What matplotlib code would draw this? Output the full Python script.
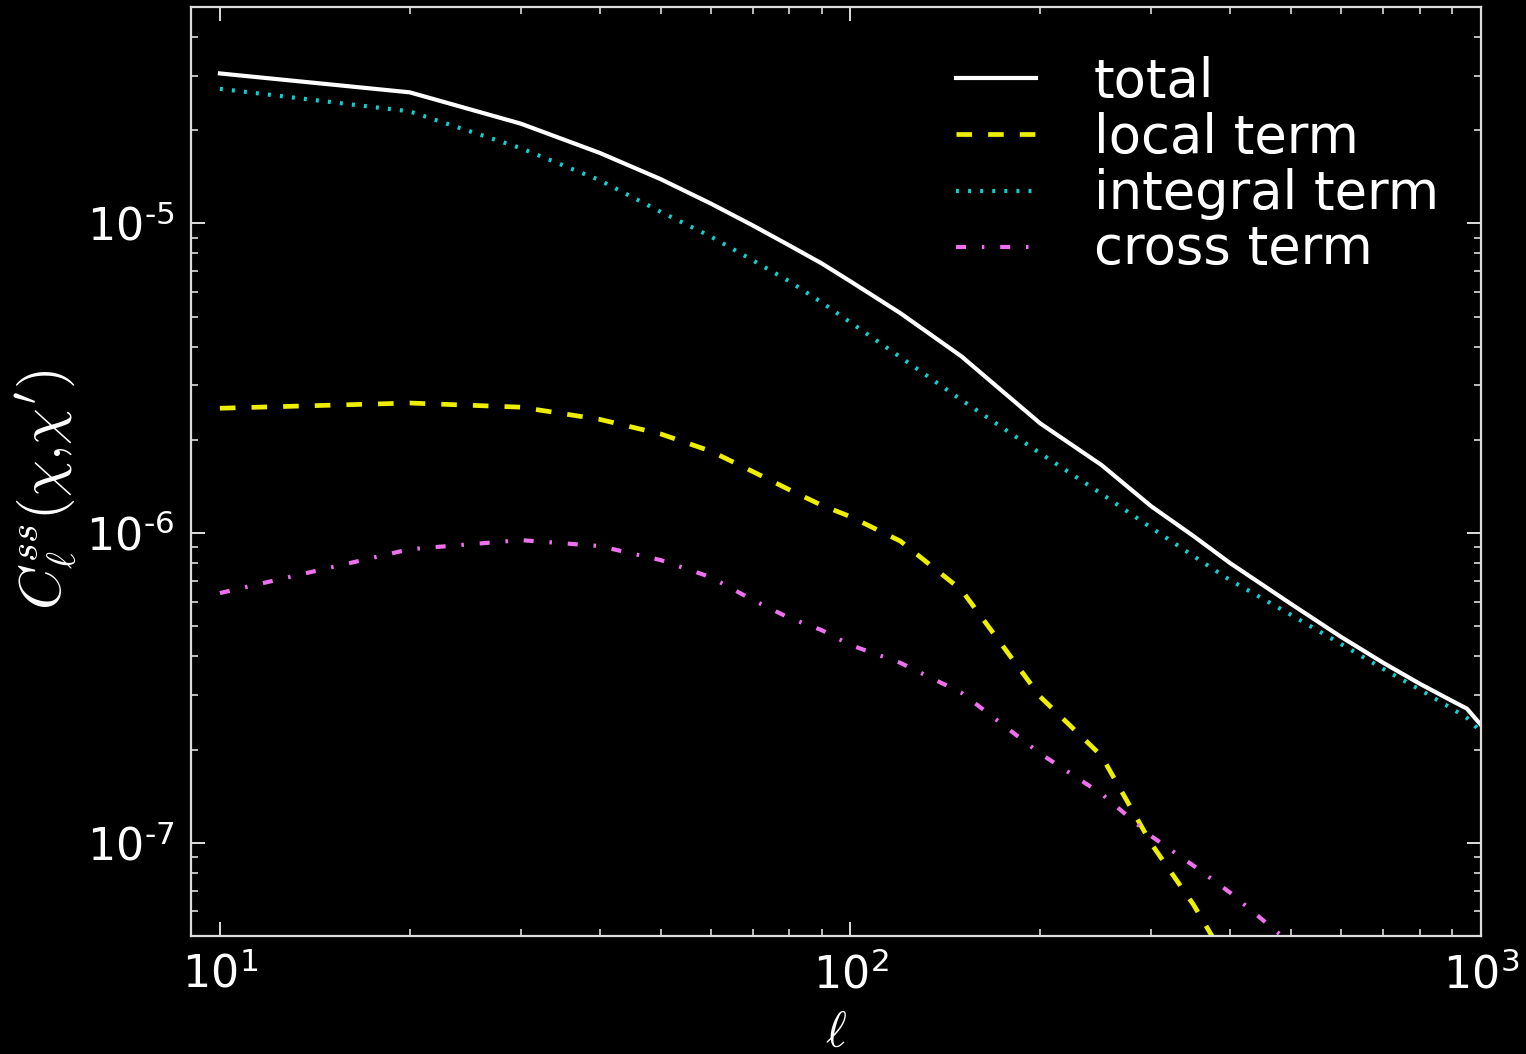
import numpy as np
import matplotlib
matplotlib.use("Agg")
import matplotlib.pyplot as plt
from matplotlib.ticker import FuncFormatter

# multipoles and the four contributions to C_ell^ss(chi, chi')
ell = [10, 20, 30, 40, 50, 60, 70, 80, 90, 100, 120, 150, 200, 250, 300,
       350, 400, 500, 600, 700, 800, 900, 950, 1000]

total = [3.05e-5, 2.65e-5, 2.10e-5, 1.69e-5, 1.39e-5, 1.16e-5, 9.85e-6,
         8.49e-6, 7.43e-6, 6.50e-6, 5.13e-6, 3.72e-6, 2.26e-6, 1.66e-6,
         1.22e-6, 9.78e-7, 8.00e-7, 5.90e-7, 4.62e-7, 3.81e-7, 3.26e-7,
         2.87e-7, 2.71e-7, 2.40e-7]

integral = [2.72e-5, 2.30e-5, 1.75e-5, 1.38e-5, 1.09e-5, 9.08e-6, 7.60e-6,
            6.50e-6, 5.56e-6, 4.79e-6, 3.70e-6, 2.69e-6, 1.81e-6, 1.34e-6,
            1.04e-6, 8.43e-7, 7.05e-7, 5.44e-7, 4.38e-7, 3.64e-7, 3.12e-7,
            2.71e-7, 2.53e-7, 2.28e-7]

ell_local = [10, 20, 30, 40, 50, 60, 70, 80, 90, 100, 120, 150, 200, 250,
             300, 350, 400]
local = [2.53e-6, 2.63e-6, 2.55e-6, 2.33e-6, 2.09e-6, 1.84e-6, 1.58e-6,
         1.38e-6, 1.23e-6, 1.13e-6, 9.42e-7, 6.55e-7, 2.96e-7, 1.91e-7,
         9.93e-8, 6.31e-8, 3.98e-8]

ell_cross = [10, 20, 30, 40, 50, 60, 70, 80, 90, 100, 120, 150, 200, 250,
             300, 350, 400, 500]
cross = [6.40e-7, 8.87e-7, 9.49e-7, 9.08e-7, 8.18e-7, 7.21e-7, 6.08e-7,
         5.32e-7, 4.86e-7, 4.35e-7, 3.81e-7, 3.05e-7, 1.94e-7, 1.44e-7,
         1.05e-7, 8.43e-8, 6.90e-8, 4.72e-8]

fg = "#dddddd"


def pow10(v, pos):
    # 10^n labels with a plain hyphen in the exponent
    e = int(round(np.log10(v)))
    s = str(e).replace("-", r"\text{-}")
    return r"$\mathdefault{10^{%s}}$" % s


fig = plt.figure(figsize=(15.26, 10.54), dpi=100, facecolor="black")
ax = fig.add_axes([0.1252, 0.1120, 0.8453, 0.8814], facecolor="black")

ax.loglog(ell, total, color="white", lw=3.0, label="total")
ax.loglog(ell_local, local, color="#eeee00", lw=3.4, dashes=(3.3, 3.4),
          label="local term")
ax.loglog(ell, integral, color="#10d0d0", lw=3.0, dashes=(0.7, 2.2),
          label="integral term")
ax.loglog(ell_cross, cross, color="#ee70ee", lw=3.0,
          dashes=(2.4, 3.8, 0.6, 3.8), label="cross term")

ax.set_xlim(9, 1000)
ax.set_ylim(5e-8, 5e-5)
ax.xaxis.set_major_formatter(FuncFormatter(pow10))
ax.yaxis.set_major_formatter(FuncFormatter(pow10))

for side in ax.spines.values():
    side.set_color(fg)
    side.set_linewidth(1.6)

ax.tick_params(which="both", direction="in", top=True, right=True,
               colors=fg, labelcolor="white", labelsize=32, pad=12)
ax.tick_params(which="major", length=10, width=1.4)
ax.tick_params(which="minor", length=5, width=1.2)

ax.set_xlabel(r"$\ell$", color="white", fontsize=36, labelpad=8,
              math_fontfamily="cm")
ax.set_ylabel(r"$C_\ell^{ss}(\chi{,}\chi')$", color="white", fontsize=42,
              math_fontfamily="cm")
ax.yaxis.set_label_coords(-0.088, 0.48)

leg = ax.legend(loc="upper right", frameon=False, fontsize=38,
                handlelength=1.5, handletextpad=1.1, labelspacing=0.08,
                borderaxespad=0.4, bbox_to_anchor=(1.0, 0.993))
for t in leg.get_texts():
    t.set_color("white")

fig.savefig("out.png", dpi=100, facecolor="black")
